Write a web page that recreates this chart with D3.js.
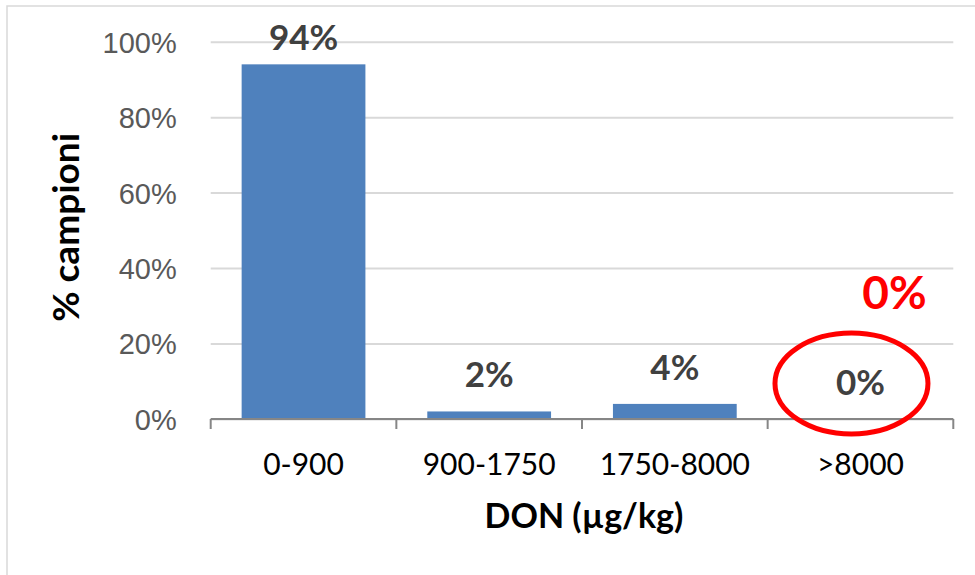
<!DOCTYPE html>
<html>
<head>
<meta charset="utf-8">
<script src="https://cdn.jsdelivr.net/npm/d3@7"></script>
<style>
  html, body { margin: 0; padding: 0; background: #fff; }
  svg { display: block; font-family: Lato, "Open Sans", sans-serif; }
</style>
</head>
<body>
<svg id="chart" width="975" height="575"></svg>
<script>
// DON contamination classes and share of samples
const categories = ["0-900", "900-1750", "1750-8000", ">8000"];
const values = [94, 2, 4, 0];
const yTicks = [0, 20, 40, 60, 80, 100];
const highlightLabel = "0%";

const svg = d3.select("#chart");
const W = 975, H = 575;
const plot = { left: 210.7, right: 953.3, top: 41.7, bottom: 419 };

// chart frame
svg.append("rect")
  .attr("x", 7).attr("y", 6)
  .attr("width", W + 10).attr("height", H + 10)
  .attr("fill", "#fff").attr("stroke", "#d9d9d9").attr("stroke-width", 1.5);

const x = d3.scaleBand()
  .domain(categories)
  .range([plot.left, plot.right])
  .paddingInner(1 / 3)
  .paddingOuter(1 / 6);

const y = d3.scaleLinear().domain([0, 100]).range([plot.bottom, plot.top]);

// gridlines + y labels
const yAxis = d3.axisLeft(y)
  .tickValues(yTicks)
  .tickSize(-(plot.right - plot.left))
  .tickPadding(34)
  .tickFormat(d => d + "%");

const gy = svg.append("g")
  .attr("transform", `translate(${plot.left},0)`)
  .call(yAxis);
gy.select(".domain").remove();
gy.selectAll(".tick line").attr("stroke", "#d9d9d9").attr("stroke-width", 2);
gy.selectAll(".tick text")
  .attr("fill", "#595959")
  .style("font-size", "29px")
  .attr("dy", "0.36em");

// bars
svg.append("g").selectAll("rect")
  .data(values)
  .join("rect")
  .attr("x", (d, i) => x(categories[i]))
  .attr("y", d => y(d))
  .attr("width", x.bandwidth())
  .attr("height", d => y(0) - y(d))
  .attr("fill", "#4f81bd");

// x axis with category boundaries as ticks
const gx = svg.append("g").attr("transform", `translate(0,${plot.bottom})`);
gx.append("line")
  .attr("x1", plot.left).attr("x2", plot.right)
  .attr("stroke", "#868686").attr("stroke-width", 2);
const edges = categories.map(c => x(c) - x.step() * x.paddingInner() / 2)
  .concat([plot.right]);
edges[0] = plot.left;
gx.selectAll("line.edge")
  .data(edges)
  .join("line")
  .attr("class", "edge")
  .attr("x1", d => d).attr("x2", d => d)
  .attr("y1", 0).attr("y2", 10)
  .attr("stroke", "#868686").attr("stroke-width", 2);
gx.selectAll("text")
  .data(categories)
  .join("text")
  .attr("x", d => x(d) + x.bandwidth() / 2)
  .attr("y", 56)
  .attr("text-anchor", "middle")
  .attr("fill", "#000")
  .style("font-size", "30px")
  .text(d => d);

// value labels
svg.append("g").selectAll("text")
  .data(values)
  .join("text")
  .attr("x", (d, i) => x(categories[i]) + x.bandwidth() / 2)
  .attr("y", d => Math.max(y(d) - 24, 50))
  .attr("text-anchor", "middle")
  .attr("fill", "#404040")
  .style("font-size", "35px")
  .style("font-weight", "bold")
  .text(d => d + "%");

// axis titles
svg.append("text")
  .attr("transform", `translate(79,${(plot.top + plot.bottom) / 2 - 3}) rotate(-90)`)
  .attr("text-anchor", "middle")
  .attr("fill", "#000")
  .style("font-size", "37px")
  .style("font-weight", "bold")
  .text("% campioni");

svg.append("text")
  .attr("x", (plot.left + plot.right) / 2 + 2)
  .attr("y", 528)
  .attr("text-anchor", "middle")
  .attr("fill", "#000")
  .style("font-size", "34px")
  .style("font-weight", "bold")
  .text("DON (µg/kg)");

// highlight of the >8000 class
const last = categories[categories.length - 1];
svg.append("ellipse")
  .attr("cx", x(last) + x.bandwidth() / 2 - 9)
  .attr("cy", 383.5)
  .attr("rx", 76.5).attr("ry", 50.5)
  .attr("fill", "none")
  .attr("stroke", "#ff0000")
  .attr("stroke-width", 5);

svg.append("text")
  .attr("x", x(last) + x.bandwidth() / 2 + 34)
  .attr("y", 309)
  .attr("text-anchor", "middle")
  .attr("fill", "#ff0000")
  .style("font-size", "46px")
  .style("font-weight", "bold")
  .text(highlightLabel);
</script>
</body>
</html>
